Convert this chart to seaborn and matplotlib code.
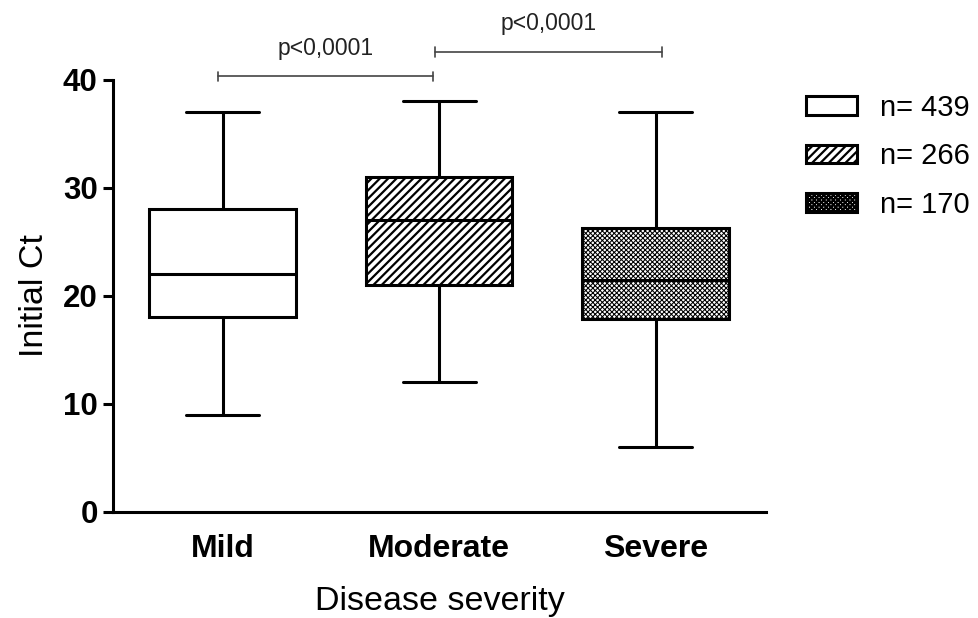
import matplotlib
matplotlib.use("Agg")
import matplotlib.pyplot as plt
from matplotlib.patches import Patch
import numpy as np
import pandas as pd
import seaborn as sns

# categories and five-number summaries (min, Q1, median, Q3, max)
categories = ["Mild", "Moderate", "Severe"]
mild = [9, 18, 22, 28, 37]
moderate = [12, 21, 27, 31, 38]
severe = [6, 17.8, 21.5, 26.3, 37]
n_labels = ["n= 439", "n= 266", "n= 170"]
hatches = ["", "////", "xxxxxxx"]
hatch_widths = [1.6, 1.6, 0.75]

# significance brackets: (left, right, height) and their labels
brackets = [(-0.02, 0.97, 40.3), (0.98, 2.03, 42.6)]
p_labels = ["p<0,0001", "p<0,0001"]

sns.set_style("ticks")
plt.rcParams["font.family"] = ["Liberation Sans", "DejaVu Sans"]
plt.rcParams["hatch.linewidth"] = 1.6
plt.rcParams["hatch.color"] = "black"
for key in ["text.color", "axes.labelcolor", "axes.edgecolor",
            "xtick.color", "ytick.color"]:
    plt.rcParams[key] = "black"

df = pd.DataFrame({
    "severity": np.repeat(categories, 5),
    "ct": mild + moderate + severe,
})

fig = plt.figure(figsize=(9.79, 6.18), dpi=100)
ax = fig.add_axes([0.1154, 0.172, 0.667, 0.699])

sns.boxplot(data=df, x="severity", y="ct", whis=(0, 100), width=0.675,
            color="white", linecolor="black", linewidth=2.2,
            showfliers=False, ax=ax)

for patch, h, hw in zip(ax.patches, hatches, hatch_widths):
    patch.set_hatch(h)
    if hasattr(patch, "set_hatch_linewidth"):
        patch.set_hatch_linewidth(hw)

ax.set_xlim(-0.506, 2.51)
ax.set_ylim(0, 40)
ax.set_yticks([0, 10, 20, 30, 40])
sns.despine(ax=ax)
for side in ["left", "bottom"]:
    ax.spines[side].set_linewidth(2.2)

ax.tick_params(axis="y", length=7, width=2.2, pad=4, labelsize=22.5)
ax.tick_params(axis="x", length=0, pad=16, labelsize=23)
for lab in ax.get_xticklabels() + ax.get_yticklabels():
    lab.set_fontweight("bold")

ax.set_ylabel("Initial Ct", fontsize=24.5, labelpad=9)
ax.set_xlabel("Disease severity", fontsize=24.5, labelpad=16)

# significance brackets
for (x0, x1, y), txt in zip(brackets, p_labels):
    ax.plot([x0, x1], [y, y], color="#444444", lw=1.2, clip_on=False)
    for xe in (x0, x1):
        ax.plot([xe, xe], [y - 0.45, y + 0.45], color="#444444", lw=1.2, clip_on=False)
    ax.text((x0 + x1) / 2, y + 2.6, txt, ha="center", va="center",
            fontsize=16.5, color="#222222", clip_on=False)

handles = []
for h, hw in zip(hatches, hatch_widths):
    p = Patch(facecolor="white", edgecolor="black", linewidth=2.2, hatch=h)
    if hasattr(p, "set_hatch_linewidth"):
        p.set_hatch_linewidth(hw)
    handles.append(p)
fig.legend(handles, n_labels, loc="upper left", bbox_to_anchor=(0.823, 0.848),
           bbox_transform=fig.transFigure, frameon=False, fontsize=21,
           handlelength=1.75, handleheight=0.6, handletextpad=0.8,
           labelspacing=0.7, borderpad=0, borderaxespad=0)

fig.savefig("out.png", dpi=100)
